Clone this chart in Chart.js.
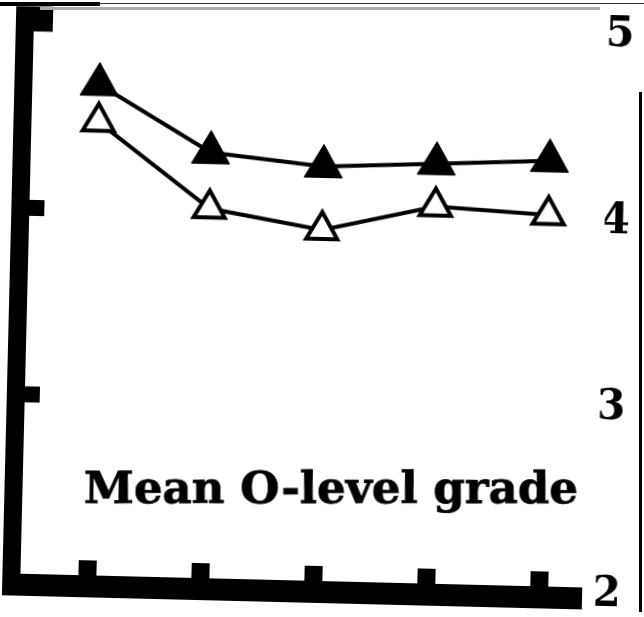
<!DOCTYPE html>
<html>
<head>
<meta charset="utf-8">
<script src="https://cdn.jsdelivr.net/npm/chart.js@4/dist/chart.umd.min.js"></script>
<style>
html,body{margin:0;padding:0;background:#fff;overflow:hidden}
#wrap{position:relative;width:644px;height:617px;overflow:hidden}
#c{position:absolute;left:0;top:0;transform:rotate(1.4deg);transform-origin:322px 308.5px}
.ln{position:absolute}
</style>
</head>
<body>
<div id="wrap">
<canvas id="c" width="644" height="617"></canvas>
<div class="ln" style="left:0;top:2px;width:100px;height:4px;background:#000"></div>
<div class="ln" style="left:100px;top:3px;width:544px;height:1px;background:#333"></div>
<div class="ln" style="left:40px;top:7px;width:560px;height:3px;background:#aaa"></div>
<div class="ln" style="left:639px;top:92px;width:3px;height:520px;background:#000"></div>
</div>
<script>
const categories = ['1', '2', '3', '4', '5'];
const filledValues = [4.67, 4.32, 4.26, 4.29, 4.32];
const openValues = [4.47, 4.02, 3.92, 4.06, 4.03];
const yTickValues = [2, 3, 4, 5];
const titleText = 'Mean O-level grade';

const ROT = 1.4 * Math.PI / 180;

const axesPlugin = {
  id: 'scanAxes',
  beforeDatasetsDraw(chart) {
    const { ctx, chartArea: a, scales: { x, y } } = chart;
    const y5 = y.getPixelForValue(5), y2 = y.getPixelForValue(2);
    ctx.save();
    ctx.fillStyle = '#000';
    // left thick axis
    const lx0 = a.left - 28.5, lx1 = a.left - 10.5;
    ctx.fillRect(lx0, y5 - 15, lx1 - lx0, (y2 + 15) - (y5 - 15));
    // left ticks (pointing inward)
    yTickValues.forEach(v => {
      if (v === 2) return;
      const py = y.getPixelForValue(v);
      if (v === 5) ctx.fillRect(lx1 - 1, y5 - 15, 20, 25);
      else ctx.fillRect(lx1 - 1, py - 8, 16, 16);
    });
    // bottom thick axis
    const by0 = y2 - 7, by1 = y2 + 15;
    ctx.fillRect(lx0, by0, (a.right - 13.5) - lx0, by1 - by0);
    // bottom ticks (pointing upward)
    categories.forEach((c, i) => {
      const px = x.getPixelForValue(i);
      ctx.fillRect(px - 9, by0 - 15, 18, 16);
    });
    ctx.restore();
  },
  afterDraw(chart) {
    const { ctx, width, height } = chart;
    ctx.save();
    // counter-rotate so the caption sits level on the page
    ctx.translate(width / 2, height / 2);
    ctx.rotate(-ROT);
    ctx.translate(-width / 2, -height / 2);
    ctx.fillStyle = '#000';
    ctx.strokeStyle = '#000';
    ctx.lineWidth = 0.8;
    ctx.font = 'bold 44px "DejaVu Serif"';
    ctx.textBaseline = 'alphabetic';
    const w = ctx.measureText(titleText).width;
    const target = 494;
    ctx.translate(84, 503);
    ctx.scale(target / w, 1);
    ctx.fillText(titleText, 0, 0);
    ctx.strokeText(titleText, 0, 0);
    ctx.restore();
  }
};

new Chart(document.getElementById('c'), {
  type: 'line',
  data: {
    labels: categories,
    datasets: [
      {
        label: 'filled',
        data: filledValues,
        borderColor: '#000',
        borderWidth: 4,
        tension: 0,
        pointStyle: 'triangle',
        pointRadius: 22,
        pointBackgroundColor: '#000',
        pointBorderColor: '#000',
        pointBorderWidth: 1
      },
      {
        label: 'open',
        data: openValues,
        borderColor: '#000',
        borderWidth: 4,
        tension: 0,
        pointStyle: 'triangle',
        pointRadius: 18,
        pointBackgroundColor: '#fff',
        pointBorderColor: '#000',
        pointBorderWidth: 4
      }
    ]
  },
  options: {
    responsive: false,
    animation: false,
    layout: { padding: { left: 37.5, right: 5.5, top: 28.5, bottom: 29 } },
    plugins: { legend: { display: false }, tooltip: { enabled: false } },
    scales: {
      x: { type: 'category', offset: true, display: false },
      y: {
        position: 'right',
        min: 2, max: 5,
        afterBuildTicks: s => { s.ticks = yTickValues.map(v => ({ value: v })); },
        afterFit: s => { s.width = 36; },
        grid: { display: false },
        border: { display: false },
        ticks: {
          color: '#000',
          padding: -12,
          font: { family: 'DejaVu Serif', weight: 'bold', size: 42 }
        }
      }
    }
  },
  plugins: [axesPlugin]
});
</script>
</body>
</html>
